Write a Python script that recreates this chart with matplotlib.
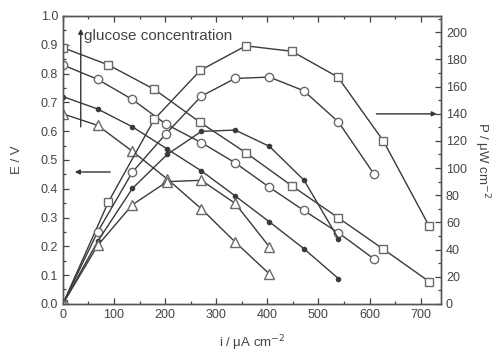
import matplotlib.pyplot as plt
from matplotlib.ticker import MultipleLocator

plt.rcParams['font.family'] = ['Liberation Sans', 'DejaVu Sans']

# polarization (E) and power (P) curves, four glucose concentrations
i_sq = [0, 89, 179, 269, 358, 448, 538, 627, 717]
E_sq = [0.89, 0.83, 0.745, 0.63, 0.525, 0.41, 0.30, 0.19, 0.077]
P_sq = [0, 75, 136, 172, 190, 186, 167, 120, 57]

i_ci = [0, 68, 136, 201, 271, 337, 404, 471, 539, 608]
E_ci = [0.83, 0.78, 0.71, 0.625, 0.56, 0.49, 0.405, 0.325, 0.247, 0.157]
P_ci = [0, 53, 97, 125, 153, 166, 167, 157, 134, 96]

i_dot = [0, 68, 136, 204, 271, 337, 404, 472, 539]
E_dot = [0.72, 0.677, 0.615, 0.538, 0.462, 0.375, 0.285, 0.191, 0.088]
P_dot = [0, 46, 85, 110, 127, 128, 116, 91, 48]

i_tri = [0, 68, 136, 204, 271, 337, 404]
E_tri = [0.66, 0.62, 0.53, 0.434, 0.33, 0.215, 0.104]
P_tri = [0, 43, 73, 90, 91, 74, 42]

lc = '#3a3a3a'
mc = '#6a6a6a'
tc = '#444444'

fig = plt.figure(figsize=(4.99, 3.55), dpi=100)
ax = fig.add_axes([0.126, 0.144, 0.758, 0.811])
ax2 = ax.twinx()

def curve(a, x, y, marker, ms, filled=False):
    a.plot(x, y, color=lc, lw=1.0, marker=marker, ms=ms,
           mfc=lc if filled else 'white', mec=lc if filled else mc, mew=1.0)

curve(ax, i_sq, E_sq, 's', 5.5)
curve(ax, i_ci, E_ci, 'o', 6)
curve(ax, i_dot, E_dot, 'o', 3, filled=True)
curve(ax, i_tri, E_tri, '^', 6.5)

curve(ax2, i_sq, P_sq, 's', 5.5)
curve(ax2, i_ci, P_ci, 'o', 6)
curve(ax2, i_dot, P_dot, 'o', 3, filled=True)
curve(ax2, i_tri, P_tri, '^', 6.5)

ax.set_xlim(0, 740)
ax.set_ylim(0, 1.0)
ax2.set_ylim(0, 212)

ax.xaxis.set_major_locator(MultipleLocator(100))
ax.xaxis.set_minor_locator(MultipleLocator(50))
ax.yaxis.set_major_locator(MultipleLocator(0.1))
ax.yaxis.set_minor_locator(MultipleLocator(0.05))
ax2.yaxis.set_major_locator(MultipleLocator(20))
ax2.yaxis.set_minor_locator(MultipleLocator(10))

ax.tick_params(which='both', direction='in', top=True, right=False, colors=tc,
               labelsize=9, width=0.9)
ax.tick_params(which='major', length=4)
ax.tick_params(which='minor', length=2.5)
ax2.tick_params(which='both', direction='in', colors=tc, labelsize=9, width=0.9)
ax2.tick_params(which='major', length=4)
ax2.tick_params(which='minor', length=2.5)
ax.yaxis.set_major_formatter(plt.FormatStrFormatter('%.1f'))

for a in (ax, ax2):
    for s in a.spines.values():
        s.set_color('#555555')
        s.set_linewidth(1.0)

ax.set_xlabel('i / μA cm$^{-2}$', color=tc, fontsize=9.5, labelpad=9)
ax.set_ylabel('E / V', color=tc, fontsize=9.5, labelpad=13)
ax2.set_ylabel('P / μW cm$^{-2}$', color=tc, fontsize=9.5, rotation=270, labelpad=18)

arr = dict(arrowstyle='-|>', color='#333333', lw=1.0, mutation_scale=7)
ax.annotate('', xy=(35, 0.965), xytext=(35, 0.605), arrowprops=arr)
ax.text(42, 0.93, 'glucose concentration', color=tc, fontsize=11, va='center')
ax.annotate('', xy=(18, 0.458), xytext=(98, 0.458), arrowprops=arr)
ax.annotate('', xy=(737, 0.66), xytext=(608, 0.66), arrowprops=arr)

fig.savefig('out.png', dpi=100)
